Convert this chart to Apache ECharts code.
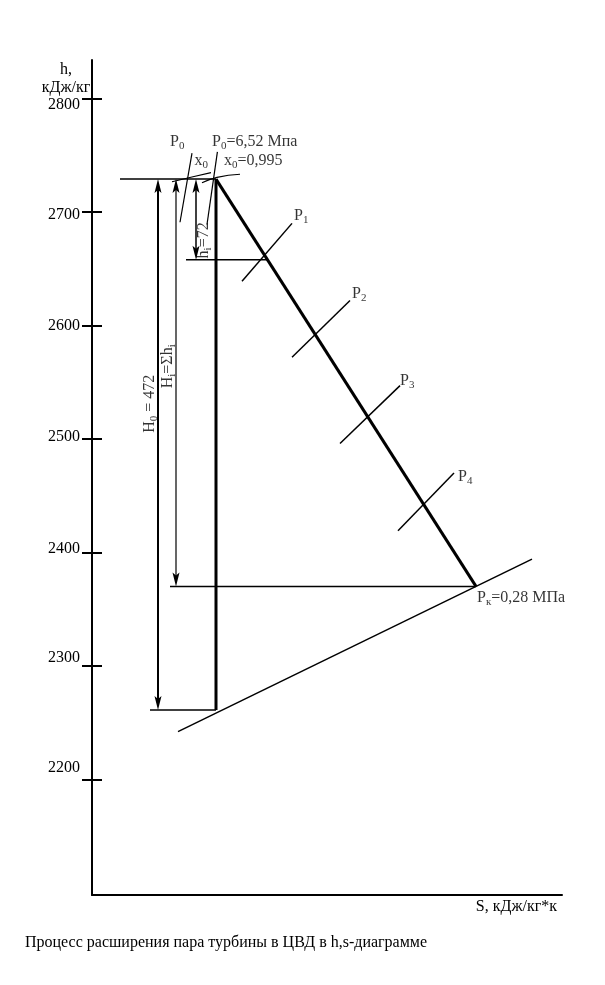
<!DOCTYPE html>
<html>

<head>
    <meta charset="utf-8" />
    <script src="https://cdn.jsdelivr.net/npm/echarts@6/dist/echarts.min.js"></script>
    <style type="text/css">
        html,
        body {
            margin: 0;
            padding: 0;
            background: #fff;
        }
    </style>
</head>

<body>
    <div id="main" style="width: 605px; height: 985px"></div>
    <script type="text/javascript">
        // шкала энтальпии
        var tickH = [2200, 2300, 2400, 2500, 2600, 2700, 2800];
        var tickShift = [-11, -8, -4, -2, 0, 3, 6]; // сдвиг подписей, px

        // точки процесса
        var h0 = 2729, h1 = 2658, hK = 2370, h2t = 2261;
        var s0 = 5.87, sK = 7.17;

        var processLine = [[s0, h0], [sK, hK]];
        var isentrope = [[s0, h0], [s0, h2t]];
        // горизонтали: [s начала, h]
        var levelStarts = [[5.39, h0], [5.72, h1], [5.64, hK], [5.54, h2t]];
        // изобара Pк
        var isobarK = [[5.68, 2242], [7.45, 2394]];
        // изобары ступеней P1..P4
        var stageIsobars = [
            [[6.0, 2639], [6.25, 2690]],
            [[6.25, 2572], [6.54, 2622]],
            [[6.49, 2496], [6.79, 2547]],
            [[6.78, 2419], [7.06, 2470]]
        ];
        // линии у начальной точки
        var isobarP0 = [[5.69, 2691], [5.75, 2752]];
        var lineX0 = [[5.825, 2689], [5.877, 2753]];
        var arcP0 = [[5.65, 2726.7], [5.755, 2731.1], [5.845, 2734.7]];
        var arcX0 = [[5.80, 2725.8], [5.875, 2730.6], [5.99, 2733.3]];
        // размерные стрелки: [s, h верх, h низ]
        var dimArrows = [[5.58, h0, h2t], [5.67, h0, hK], [5.77, h0, h1]];
        var arrowWidths = [2, 1.2, 1.5];

        // конец горизонтали h1 на линии процесса
        function sOnProcess(h) {
            return s0 + (h0 - h) / (h0 - hK) * (sK - s0);
        }
        var levelEnds = [s0, sOnProcess(h1), sK, s0];

        var font = "Liberation Serif";
        var rich = {
            n: { fontFamily: font, fontSize: 16, color: "#000", lineHeight: 20 },
            s: { fontFamily: font, fontSize: 11, color: "#000", lineHeight: 11, verticalAlign: "bottom" }
        };

        var labels = [
            { value: [5.64, 2762], text: "{n|P}{s|0}" },
            { value: [5.762, 2745], text: "{n|x}{s|0}" },
            { value: [5.85, 2762], text: "{n|P}{s|0}{n|=6,52 Мпа}" },
            { value: [5.91, 2745.5], text: "{n|x}{s|0}{n|=0,995}" },
            { value: [6.26, 2697], text: "{n|P}{s|1}" },
            { value: [6.55, 2628], text: "{n|P}{s|2}" },
            { value: [6.79, 2551], text: "{n|P}{s|3}" },
            { value: [7.08, 2467], text: "{n|P}{s|4}" },
            { value: [7.175, 2360], text: "{n|P}{s|к}{n|=0,28 МПа}" },
            { value: [5.5375, 2531], text: "{n|H}{s|0}{n| = 472}", rotate: 90 },
            { value: [5.63, 2564], text: "{n|H}{s|i}{n|=Σh}{s|i}", rotate: 90 },
            { value: [5.81, 2675], text: "{n|h}{s|i}{n|=72}", rotate: 90 }
        ];

        var tickRich = {};
        tickH.forEach(function (v, i) {
            var d = tickShift[i];
            tickRich["t" + v] = {
                fontFamily: font, fontSize: 16, color: "#000",
                padding: d > 0 ? [2 * d, 0, 0, 0] : [0, 0, -2 * d, 0]
            };
        });

        function lineSeries(data, width, smooth) {
            return {
                type: "line",
                data: data,
                symbol: "none",
                smooth: smooth || false,
                silent: true,
                lineStyle: { color: "#000", width: width }
            };
        }

        var series = [];
        series.push(lineSeries(processLine, 3));
        series.push(lineSeries(isentrope, 3));
        levelStarts.forEach(function (p, i) {
            series.push(lineSeries([p, [levelEnds[i], p[1]]], 1.5));
        });
        series.push(lineSeries(isobarK, 1.5));
        stageIsobars.forEach(function (seg) {
            series.push(lineSeries(seg, 1.5));
        });
        series.push(lineSeries(isobarP0, 1.2));
        series.push(lineSeries(lineX0, 1.2));
        series.push(lineSeries(arcP0, 1.2, 0.5));
        series.push(lineSeries(arcX0, 1.2, 0.5));

        series.push({
            type: "custom",
            coordinateSystem: "cartesian2d",
            clip: false,
            silent: true,
            data: dimArrows,
            encode: { x: 0, y: [1, 2] },
            renderItem: function (params, api) {
                var top = api.coord([api.value(0), api.value(1)]);
                var bot = api.coord([api.value(0), api.value(2)]);
                var x = top[0];
                var w = arrowWidths[params.dataIndex];
                return {
                    type: "group",
                    children: [
                        {
                            type: "line",
                            shape: { x1: x, y1: top[1] + 8, x2: x, y2: bot[1] - 8 },
                            style: { stroke: "#000", lineWidth: w }
                        },
                        {
                            type: "polygon",
                            shape: { points: [[x, top[1]], [x - 3.5, top[1] + 14], [x, top[1] + 11], [x + 3.5, top[1] + 14]] },
                            style: { fill: "#000" }
                        },
                        {
                            type: "polygon",
                            shape: { points: [[x, bot[1]], [x - 3.5, bot[1] - 14], [x, bot[1] - 11], [x + 3.5, bot[1] - 14]] },
                            style: { fill: "#000" }
                        }
                    ]
                };
            }
        });

        series.push({
            type: "scatter",
            symbolSize: 0,
            silent: true,
            data: labels.map(function (d) {
                return {
                    value: d.value,
                    label: {
                        show: true,
                        position: [0, 0],
                        formatter: d.text,
                        rotate: d.rotate || 0,
                        align: d.rotate ? "center" : "left",
                        verticalAlign: "middle",
                        rich: rich
                    }
                };
            })
        });

        var chart = echarts.init(document.getElementById("main"), null, { renderer: "canvas" });
        chart.setOption({
            animation: false,
            backgroundColor: "#fff",
            grid: { left: 92, right: 43, top: 60, bottom: 90, containLabel: false, outerBoundsMode: "none" },
            xAxis: {
                type: "value",
                min: 5.25,
                max: 7.6,
                axisLine: { show: true, lineStyle: { color: "#000", width: 2 } },
                axisTick: { show: false },
                axisLabel: { show: false },
                splitLine: { show: false }
            },
            yAxis: [
                {
                    type: "value",
                    min: 2098,
                    max: 2834,
                    axisLine: { show: true, lineStyle: { color: "#000", width: 2 } },
                    axisTick: { show: true, length: 10, inside: false, customValues: tickH, lineStyle: { color: "#000", width: 2 } },
                    axisLabel: {
                        show: true, margin: 12, customValues: tickH,
                        formatter: function (v) { return "{t" + v + "|" + v + "}"; },
                        rich: tickRich
                    },
                    splitLine: { show: false }
                },
                {
                    type: "value",
                    min: 2098,
                    max: 2834,
                    position: "left",
                    axisLine: { show: false },
                    axisTick: { show: true, length: 10, inside: true, customValues: tickH, lineStyle: { color: "#000", width: 2 } },
                    axisLabel: { show: false },
                    splitLine: { show: false }
                }
            ],
            graphic: [
                {
                    type: "text", x: 66, y: 70,
                    style: { text: "h,", font: "16px " + font, fill: "#000", align: "center", verticalAlign: "middle" }
                },
                {
                    type: "text", x: 66, y: 88,
                    style: { text: "кДж/кг", font: "16px " + font, fill: "#000", align: "center", verticalAlign: "middle" }
                },
                {
                    type: "text", x: 557, y: 907,
                    style: { text: "S, кДж/кг*к", font: "16px " + font, fill: "#000", align: "right", verticalAlign: "middle" }
                },
                {
                    type: "text", x: 25, y: 943,
                    style: { text: "Процесс расширения пара турбины в ЦВД в h,s-диаграмме", font: "16px " + font, fill: "#000", align: "left", verticalAlign: "middle" }
                }
            ],
            series: series
        });
    </script>
</body>

</html>
